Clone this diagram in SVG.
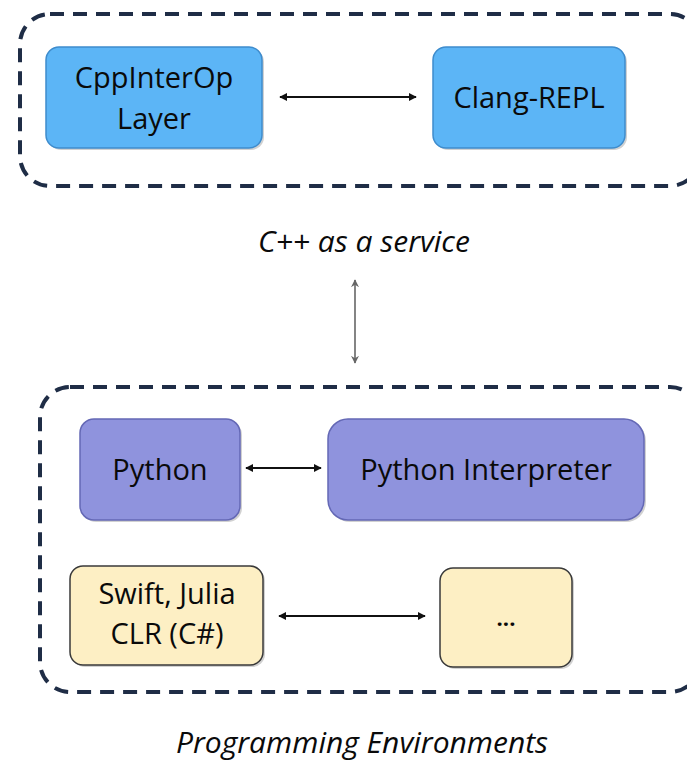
<svg xmlns="http://www.w3.org/2000/svg" width="687" height="764" viewBox="0 0 687 764">
<style>
.container{fill:none;stroke:#1f2d46;stroke-width:4;stroke-dasharray:14 9;}
.blue{fill:#5cb5f6;stroke:#3e8ccd;stroke-width:1.5;}
.purple{fill:#8f93dd;stroke:#6468b5;stroke-width:1.5;}
.yellow{fill:#fdefc4;stroke:#3a3a3a;stroke-width:1.5;}
.shadow{fill:#000;opacity:0.18;}
.lbl{font-family:"Open Sans","Liberation Sans",sans-serif;font-size:29px;fill:#0a0a0a;text-anchor:middle;}
.cap{font-family:"Open Sans","Liberation Sans",sans-serif;font-size:30px;font-style:italic;fill:#0a0a0a;text-anchor:middle;}
.conn{stroke:#111;stroke-width:2;fill:none;marker-start:url(#ah);marker-end:url(#ah);}
.connG{stroke:#666;stroke-width:1.6;fill:none;marker-start:url(#ahg);marker-end:url(#ahg);}
</style>
<defs>
<marker id="ah" viewBox="0 0 10 10" refX="9" refY="5" markerWidth="4" markerHeight="4" orient="auto-start-reverse"><path d="M0,0 L10,5 L0,10 z" fill="#111"/></marker>
<marker id="ahg" viewBox="0 0 10 10" refX="9" refY="5" markerWidth="5" markerHeight="6" orient="auto-start-reverse"><path d="M0,0 L10,5 L0,10 L3,5 z" fill="#666"/></marker>
</defs>
<rect width="687" height="764" fill="#fff"/>
<g id="cxx-service">
<rect class="container" x="20" y="14" width="680" height="172" rx="30"/>
<text class="cap" x="364" y="252">C++ as a service</text>
</g>
<g id="prog-env">
<rect class="container" x="40" y="387" width="660" height="305" rx="30"/>
<text class="cap" x="362" y="753">Programming Environments</text>
</g>
<g id="cppinterop">
<rect class="shadow" x="48" y="49" width="216" height="101" rx="13"/>
<rect class="blue" x="46" y="47" width="216" height="101" rx="13"/>
<text class="lbl" x="154" y="88">CppInterOp</text>
<text class="lbl" x="154" y="129">Layer</text>
</g>
<g id="clang-repl">
<rect class="shadow" x="435" y="49" width="192" height="101" rx="13"/>
<rect class="blue" x="433" y="47" width="192" height="101" rx="13"/>
<text class="lbl" x="529" y="108">Clang-REPL</text>
</g>
<g id="python">
<rect class="shadow" x="82" y="421" width="160" height="101" rx="14"/>
<rect class="purple" x="80" y="419" width="160" height="101" rx="14"/>
<text class="lbl" x="160" y="480">Python</text>
</g>
<g id="python-interp">
<rect class="shadow" x="330" y="421" width="316" height="101" rx="20"/>
<rect class="purple" x="328" y="419" width="316" height="101" rx="20"/>
<text class="lbl" x="486" y="480">Python Interpreter</text>
</g>
<g id="swift">
<rect class="shadow" x="72" y="568" width="193" height="99" rx="13"/>
<rect class="yellow" x="70" y="566" width="193" height="99" rx="13"/>
<text class="lbl" x="167" y="604">Swift, Julia</text>
<text class="lbl" x="167" y="644">CLR (C#)</text>
</g>
<g id="more">
<rect class="shadow" x="442" y="570" width="132" height="99" rx="13"/>
<rect class="yellow" x="440" y="568" width="132" height="99" rx="13"/>
<text class="lbl" x="506" y="626" style="font-size:22px;font-weight:bold">...</text>
</g>
<g id="connectors">
<line class="conn" x1="280" y1="97" x2="416" y2="97"/>
<line class="connG" x1="355" y1="280" x2="355" y2="363"/>
<line class="conn" x1="246" y1="468" x2="321" y2="468"/>
<line class="conn" x1="279" y1="616" x2="425" y2="616"/>
</g>
</svg>
